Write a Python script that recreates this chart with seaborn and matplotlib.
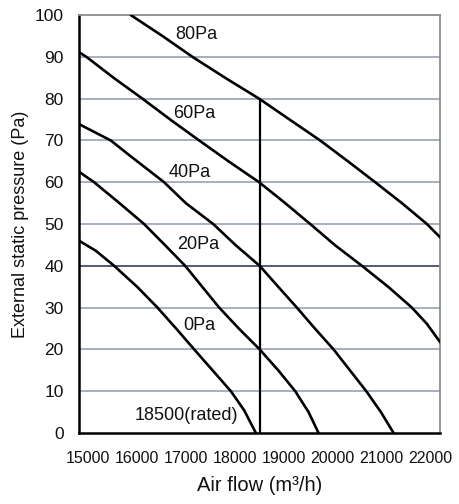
import matplotlib.pyplot as plt
import matplotlib.transforms as mtransforms
import pandas as pd
import seaborn as sns

sns.set_theme(style="white")
plt.rcParams['font.family'] = ['Liberation Sans', 'DejaVu Sans']

# curves, airflow (m3/h) vs external static pressure (Pa)
x_0pa = [15000, 15323, 15679, 16131, 16519, 16887, 17230, 17586, 17941, 18200, 18426]
y_0pa = [46.0, 43.6, 40, 34.9, 30, 24.9, 20, 15, 10, 5.4, 0]

x_20pa = [15000, 15291, 15743, 16260, 16668, 17056, 17392, 17715, 18103, 18500, 18866, 19189, 19447, 19641]
y_20pa = [62.5, 60, 55.4, 50, 44.9, 40, 34.9, 30, 24.9, 20, 14.9, 10, 5, 0]

x_40pa = [15000, 15614, 15970, 16648, 17068, 17600, 18038, 18500, 18866, 19221, 19577, 19932, 20255, 20566, 20850, 21096]
y_40pa = [73.9, 70, 66.5, 60, 55, 50, 44.9, 40, 34.9, 30, 24.9, 20, 14.9, 10, 5, 0]

x_60pa = [15000, 15142, 15679, 16228, 16778, 17327, 17909, 18490, 18995, 19480, 19964, 20482, 20999, 21451, 21742, 22000]
y_60pa = [91.1, 90, 84.9, 80, 74.9, 70, 64.9, 60, 55, 50, 44.9, 40, 34.9, 30, 26.1, 21.7]

x_80pa = [16002, 16616, 17198, 17844, 18490, 19092, 19673, 20223, 20740, 21257, 21742, 22000]
y_80pa = [100, 95, 90, 84.9, 80, 74.9, 70, 64.9, 60, 55, 50, 46.8]

curve_labels = ['0Pa', '20Pa', '40Pa', '60Pa', '80Pa']
label_x = [17327, 17307, 17152, 17230, 17278]
label_y = [25.8, 45.0, 62.4, 76.4, 95.3]

rated_flow = 18500
rated_pressure = 80
x_ticks = [15000, 16000, 17000, 18000, 19000, 20000, 21000, 22000]
y_ticks = [0, 10, 20, 30, 40, 50, 60, 70, 80, 90, 100]


def main():
    curves = [(x_0pa, y_0pa), (x_20pa, y_20pa), (x_40pa, y_40pa),
              (x_60pa, y_60pa), (x_80pa, y_80pa)]
    frames = []
    for name, (xs, ys) in zip(curve_labels, curves):
        frames.append(pd.DataFrame({'flow': xs, 'pressure': ys, 'curve': name}))
    df = pd.concat(frames, ignore_index=True)

    fig = plt.figure(figsize=(4.6, 5.04), dpi=100)
    ax = fig.add_axes([0.172, 0.141, 0.785, 0.829])

    # grid lines (the 40 Pa one is darker in the original)
    for y in y_ticks[1:-1]:
        if y == 40:
            ax.axhline(y, color='#4d5c78', lw=1.4, zorder=1)
        else:
            ax.axhline(y, color='#8e9ab0', lw=1.1, zorder=1)

    sns.lineplot(data=df, x='flow', y='pressure', hue='curve', units='curve',
                 estimator=None, sort=False, palette=['black'] * 5,
                 linewidth=1.9, legend=False, ax=ax, zorder=3)

    ax.plot([rated_flow, rated_flow], [0, rated_pressure], color='black', lw=1.6, zorder=3)

    for t, tx, ty in zip(curve_labels, label_x, label_y):
        ax.text(tx, ty, t, ha='center', va='center', fontsize=13, color='#111111', zorder=4)
    ax.text(17085, 4.2, f'{rated_flow}(rated)', ha='center', va='center',
            fontsize=13, color='#111111', zorder=4)

    ax.set_xlim(15000, 22000)
    ax.set_ylim(0, 100)
    ax.set_xticks(x_ticks)
    ax.set_yticks(y_ticks)
    ax.tick_params(axis='both', length=0, colors='#111111')
    ax.tick_params(axis='x', pad=13, labelsize=11.5)
    ax.tick_params(axis='y', pad=11, labelsize=12.5)

    # the original's x labels sit a bit closer together than the ticks
    for i, lbl in enumerate(ax.get_xticklabels()):
        dx = (9 - 2.67 * i) / 100.0
        lbl.set_transform(lbl.get_transform() +
                          mtransforms.ScaledTranslation(dx, 0, fig.dpi_scale_trans))

    ax.set_xlabel('Air flow (m³/h)', fontsize=14.5, labelpad=7, color='#111111')
    ax.set_ylabel('External static pressure (Pa)', fontsize=13, labelpad=4, color='#111111')

    for side in ['left', 'bottom']:
        ax.spines[side].set_color('black')
        ax.spines[side].set_linewidth(1.8)
    for side in ['top', 'right']:
        ax.spines[side].set_color('#8c8c8c')
        ax.spines[side].set_linewidth(1.3)
        ax.spines[side].set_visible(True)

    plt.savefig('out.png', dpi=100)


if __name__ == "__main__":
    main()
